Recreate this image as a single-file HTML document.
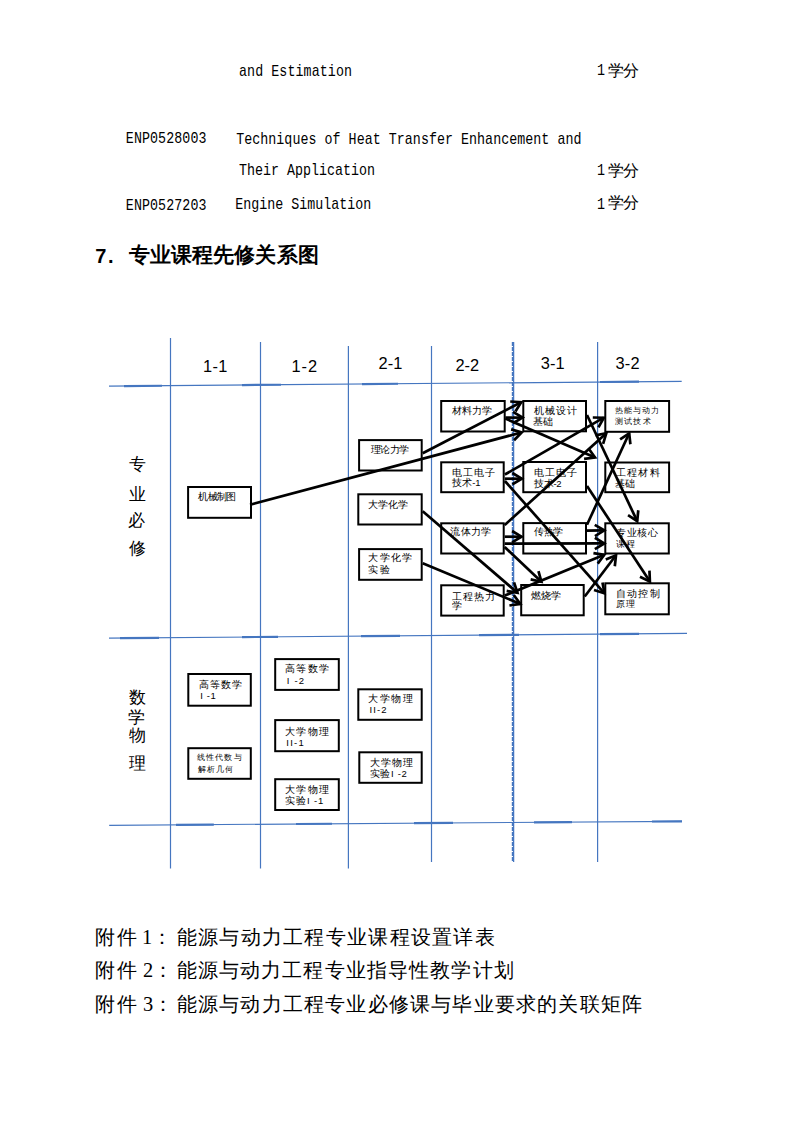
<!DOCTYPE html>
<html><head><meta charset="utf-8"><style>
html,body{margin:0;padding:0;background:#fff;}
body{width:794px;height:1123px;position:relative;overflow:hidden;}
.t{position:absolute;white-space:pre;line-height:1;color:#000;}
svg{position:absolute;left:0;top:0;}
</style></head><body>
<svg width="794" height="1123" viewBox="0 0 794 1123">
<line x1="109.00" y1="386.20" x2="681.70" y2="381.30" stroke="#4576c0" stroke-width="1.2" />
<line x1="124.00" y1="386.07" x2="162.00" y2="385.75" stroke="#4576c0" stroke-width="2.2" />
<line x1="242.00" y1="385.06" x2="281.00" y2="384.73" stroke="#4576c0" stroke-width="2.2" />
<line x1="362.00" y1="384.04" x2="398.00" y2="383.73" stroke="#4576c0" stroke-width="2.2" />
<line x1="600.00" y1="382.00" x2="639.00" y2="381.67" stroke="#4576c0" stroke-width="2.2" />
<line x1="109.00" y1="638.20" x2="687.00" y2="633.40" stroke="#4576c0" stroke-width="1.2" />
<line x1="120.00" y1="638.11" x2="159.00" y2="637.78" stroke="#4576c0" stroke-width="2.2" />
<line x1="242.00" y1="637.10" x2="278.00" y2="636.80" stroke="#4576c0" stroke-width="2.2" />
<line x1="361.00" y1="636.11" x2="400.00" y2="635.78" stroke="#4576c0" stroke-width="2.2" />
<line x1="479.00" y1="635.13" x2="519.00" y2="634.80" stroke="#4576c0" stroke-width="2.2" />
<line x1="600.00" y1="634.12" x2="639.00" y2="633.80" stroke="#4576c0" stroke-width="2.2" />
<line x1="109.20" y1="825.30" x2="682.00" y2="821.30" stroke="#4576c0" stroke-width="1.2" />
<line x1="176.00" y1="824.83" x2="213.80" y2="824.57" stroke="#4576c0" stroke-width="2.2" />
<line x1="296.00" y1="824.00" x2="332.00" y2="823.74" stroke="#4576c0" stroke-width="2.2" />
<line x1="414.00" y1="823.17" x2="453.00" y2="822.90" stroke="#4576c0" stroke-width="2.2" />
<line x1="534.00" y1="822.33" x2="572.00" y2="822.07" stroke="#4576c0" stroke-width="2.2" />
<line x1="652.00" y1="821.51" x2="682.00" y2="821.30" stroke="#4576c0" stroke-width="2.2" />
<line x1="170.50" y1="338.00" x2="170.50" y2="868.60" stroke="#4576c0" stroke-width="1.2" />
<line x1="260.50" y1="342.00" x2="260.50" y2="868.60" stroke="#4576c0" stroke-width="1.2" />
<line x1="348.40" y1="346.00" x2="348.40" y2="868.60" stroke="#4576c0" stroke-width="1.2" />
<line x1="431.50" y1="346.00" x2="431.50" y2="862.00" stroke="#4576c0" stroke-width="1.2" />
<line x1="597.60" y1="342.00" x2="597.60" y2="862.00" stroke="#4576c0" stroke-width="1.2" />
<line x1="513.60" y1="342.00" x2="513.60" y2="862.00" stroke="#4576c0" stroke-width="1.3" />
<line x1="512.40" y1="342.00" x2="512.40" y2="862.00" stroke="#4576c0" stroke-width="1.2" stroke-dasharray="4 1"/>
<rect x="188.10" y="487.00" width="62.90" height="30.80" fill="#fff" stroke="#000" stroke-width="2"/>
<rect x="359.10" y="440.10" width="62.60" height="30.40" fill="#fff" stroke="#000" stroke-width="2"/>
<rect x="358.30" y="494.30" width="63.40" height="30.20" fill="#fff" stroke="#000" stroke-width="2"/>
<rect x="359.10" y="549.10" width="62.60" height="30.70" fill="#fff" stroke="#000" stroke-width="2"/>
<rect x="441.20" y="401.00" width="63.50" height="30.50" fill="#fff" stroke="#000" stroke-width="2"/>
<rect x="441.20" y="462.30" width="62.50" height="29.90" fill="#fff" stroke="#000" stroke-width="2"/>
<rect x="441.20" y="523.30" width="62.50" height="30.20" fill="#fff" stroke="#000" stroke-width="2"/>
<rect x="441.20" y="585.30" width="62.50" height="30.30" fill="#fff" stroke="#000" stroke-width="2"/>
<rect x="523.30" y="401.00" width="62.70" height="30.30" fill="#fff" stroke="#000" stroke-width="2"/>
<rect x="523.30" y="462.00" width="62.70" height="30.20" fill="#fff" stroke="#000" stroke-width="2"/>
<rect x="523.30" y="523.10" width="62.70" height="30.40" fill="#fff" stroke="#000" stroke-width="2"/>
<rect x="521.20" y="585.00" width="62.50" height="30.30" fill="#fff" stroke="#000" stroke-width="2"/>
<rect x="605.30" y="401.00" width="63.80" height="30.80" fill="#fff" stroke="#000" stroke-width="2"/>
<rect x="605.30" y="462.50" width="63.80" height="29.70" fill="#fff" stroke="#000" stroke-width="2"/>
<rect x="605.30" y="523.30" width="63.50" height="30.20" fill="#fff" stroke="#000" stroke-width="2"/>
<rect x="605.30" y="583.30" width="63.50" height="31.00" fill="#fff" stroke="#000" stroke-width="2"/>
<rect x="188.30" y="674.00" width="62.50" height="31.70" fill="#fff" stroke="#000" stroke-width="2"/>
<rect x="188.30" y="748.20" width="62.50" height="30.60" fill="#fff" stroke="#000" stroke-width="2"/>
<rect x="275.20" y="659.10" width="63.60" height="30.80" fill="#fff" stroke="#000" stroke-width="2"/>
<rect x="275.20" y="720.10" width="63.60" height="31.10" fill="#fff" stroke="#000" stroke-width="2"/>
<rect x="275.20" y="779.20" width="63.60" height="30.80" fill="#fff" stroke="#000" stroke-width="2"/>
<rect x="358.30" y="689.30" width="63.40" height="30.50" fill="#fff" stroke="#000" stroke-width="2"/>
<rect x="359.30" y="752.30" width="62.40" height="30.50" fill="#fff" stroke="#000" stroke-width="2"/>
</svg>
<div class="t" style="left:239.00px;top:64.30px;font-family:'Liberation Mono',monospace;font-size:13.33px;letter-spacing:0.076px;font-weight:normal;transform:scaleY(1.2);transform-origin:0 0;">and Estimation</div>
<div class="t" style="left:125.80px;top:130.80px;font-family:'Liberation Mono',monospace;font-size:13.33px;letter-spacing:0.080px;font-weight:normal;transform:scaleY(1.2);transform-origin:0 0;">ENP0528003</div>
<div class="t" style="left:236.20px;top:131.55px;font-family:'Liberation Mono',monospace;font-size:13.33px;letter-spacing:0.032px;font-weight:normal;transform:scaleY(1.2);transform-origin:0 0;">Techniques of Heat Transfer Enhancement and</div>
<div class="t" style="left:239.00px;top:162.95px;font-family:'Liberation Mono',monospace;font-size:13.33px;letter-spacing:0.000px;font-weight:normal;transform:scaleY(1.2);transform-origin:0 0;">Their Application</div>
<div class="t" style="left:125.80px;top:197.60px;font-family:'Liberation Mono',monospace;font-size:13.33px;letter-spacing:0.080px;font-weight:normal;transform:scaleY(1.2);transform-origin:0 0;">ENP0527203</div>
<div class="t" style="left:235.20px;top:196.60px;font-family:'Liberation Mono',monospace;font-size:13.33px;letter-spacing:0.000px;font-weight:normal;transform:scaleY(1.2);transform-origin:0 0;">Engine Simulation</div>
<div class="t" style="left:597.00px;top:63.40px;font-family:'Liberation Mono',monospace;font-size:13.33px;letter-spacing:0.000px;font-weight:normal;transform:scaleY(1.2);transform-origin:0 0;">1</div>
<div class="t" style="left:608.10px;top:63.00px;font-family:'Liberation Serif',serif;font-size:16.00px;letter-spacing:-0.780px;font-weight:normal;">学分</div>
<div class="t" style="left:597.00px;top:163.35px;font-family:'Liberation Mono',monospace;font-size:13.33px;letter-spacing:0.000px;font-weight:normal;transform:scaleY(1.2);transform-origin:0 0;">1</div>
<div class="t" style="left:608.10px;top:162.70px;font-family:'Liberation Serif',serif;font-size:16.00px;letter-spacing:-0.780px;font-weight:normal;">学分</div>
<div class="t" style="left:597.00px;top:196.80px;font-family:'Liberation Mono',monospace;font-size:13.33px;letter-spacing:0.000px;font-weight:normal;transform:scaleY(1.2);transform-origin:0 0;">1</div>
<div class="t" style="left:608.10px;top:195.40px;font-family:'Liberation Serif',serif;font-size:16.00px;letter-spacing:-0.780px;font-weight:normal;">学分</div>
<div class="t" style="left:95.20px;top:246.40px;font-family:'Liberation Sans',sans-serif;font-size:20.00px;letter-spacing:1.640px;font-weight:bold;">7.</div>
<div class="t" style="left:128.50px;top:245.22px;font-family:'Liberation Sans',sans-serif;font-size:20.50px;letter-spacing:0.152px;font-weight:bold;">专业课程先修关系图</div>
<div class="t" style="left:94.90px;top:927.44px;font-family:'Liberation Serif',serif;font-size:20.40px;letter-spacing:1.700px;font-weight:normal;">附件</div>
<div class="t" style="left:142.00px;top:927.44px;font-family:'Liberation Serif',serif;font-size:20.40px;letter-spacing:0.000px;font-weight:normal;">1：</div>
<div class="t" style="left:176.70px;top:927.44px;font-family:'Liberation Serif',serif;font-size:20.40px;letter-spacing:1.287px;font-weight:normal;">能源与动力工程专业课程设置详表</div>
<div class="t" style="left:94.90px;top:960.14px;font-family:'Liberation Serif',serif;font-size:20.40px;letter-spacing:1.700px;font-weight:normal;">附件</div>
<div class="t" style="left:143.00px;top:960.14px;font-family:'Liberation Serif',serif;font-size:20.40px;letter-spacing:0.000px;font-weight:normal;">2：</div>
<div class="t" style="left:176.70px;top:960.14px;font-family:'Liberation Serif',serif;font-size:20.40px;letter-spacing:1.132px;font-weight:normal;">能源与动力工程专业指导性教学计划</div>
<div class="t" style="left:94.90px;top:994.14px;font-family:'Liberation Serif',serif;font-size:20.40px;letter-spacing:1.700px;font-weight:normal;">附件</div>
<div class="t" style="left:143.00px;top:994.14px;font-family:'Liberation Serif',serif;font-size:20.40px;letter-spacing:0.000px;font-weight:normal;">3：</div>
<div class="t" style="left:176.70px;top:994.14px;font-family:'Liberation Serif',serif;font-size:20.40px;letter-spacing:1.206px;font-weight:normal;">能源与动力工程专业必修课与毕业要求的关联矩阵</div>
<div class="t" style="left:129.30px;top:456.35px;font-family:'Liberation Sans',sans-serif;font-size:17.00px;letter-spacing:0.000px;font-weight:normal;">专</div>
<div class="t" style="left:129.30px;top:486.05px;font-family:'Liberation Sans',sans-serif;font-size:17.00px;letter-spacing:0.000px;font-weight:normal;">业</div>
<div class="t" style="left:128.30px;top:512.15px;font-family:'Liberation Sans',sans-serif;font-size:17.00px;letter-spacing:0.000px;font-weight:normal;">必</div>
<div class="t" style="left:129.30px;top:539.75px;font-family:'Liberation Sans',sans-serif;font-size:17.00px;letter-spacing:0.000px;font-weight:normal;">修</div>
<div class="t" style="left:129.30px;top:688.95px;font-family:'Liberation Sans',sans-serif;font-size:17.00px;letter-spacing:0.000px;font-weight:normal;">数</div>
<div class="t" style="left:128.30px;top:708.85px;font-family:'Liberation Sans',sans-serif;font-size:17.00px;letter-spacing:0.000px;font-weight:normal;">学</div>
<div class="t" style="left:129.30px;top:726.85px;font-family:'Liberation Sans',sans-serif;font-size:17.00px;letter-spacing:0.000px;font-weight:normal;">物</div>
<div class="t" style="left:129.30px;top:755.45px;font-family:'Liberation Sans',sans-serif;font-size:17.00px;letter-spacing:0.000px;font-weight:normal;">理</div>
<div class="t" style="left:198.30px;top:492.47px;font-family:'Liberation Sans',sans-serif;font-size:9.50px;letter-spacing:-0.620px;font-weight:normal;">机械制图</div>
<div class="t" style="left:370.60px;top:445.28px;font-family:'Liberation Sans',sans-serif;font-size:9.50px;letter-spacing:-0.500px;font-weight:normal;">理论力学</div>
<div class="t" style="left:368.30px;top:500.07px;font-family:'Liberation Sans',sans-serif;font-size:9.50px;letter-spacing:-0.020px;font-weight:normal;">大学化学</div>
<div class="t" style="left:368.30px;top:553.48px;font-family:'Liberation Sans',sans-serif;font-size:9.50px;letter-spacing:1.240px;font-weight:normal;">大学化学</div>
<div class="t" style="left:368.30px;top:564.78px;font-family:'Liberation Sans',sans-serif;font-size:9.50px;letter-spacing:1.360px;font-weight:normal;">实验</div>
<div class="t" style="left:451.80px;top:405.88px;font-family:'Liberation Sans',sans-serif;font-size:9.50px;letter-spacing:-0.020px;font-weight:normal;">材料力学</div>
<div class="t" style="left:451.80px;top:468.18px;font-family:'Liberation Sans',sans-serif;font-size:9.50px;letter-spacing:0.940px;font-weight:normal;">电工电子</div>
<div class="t" style="left:452.30px;top:478.47px;font-family:'Liberation Sans',sans-serif;font-size:9.50px;letter-spacing:-0.080px;font-weight:normal;">技术-1</div>
<div class="t" style="left:450.30px;top:527.48px;font-family:'Liberation Sans',sans-serif;font-size:9.50px;letter-spacing:0.280px;font-weight:normal;">流体力学</div>
<div class="t" style="left:451.80px;top:591.88px;font-family:'Liberation Sans',sans-serif;font-size:9.50px;letter-spacing:0.940px;font-weight:normal;">工程热力</div>
<div class="t" style="left:452.30px;top:600.98px;font-family:'Liberation Sans',sans-serif;font-size:9.50px;letter-spacing:1.000px;font-weight:normal;">学</div>
<div class="t" style="left:534.30px;top:406.38px;font-family:'Liberation Sans',sans-serif;font-size:9.50px;letter-spacing:0.940px;font-weight:normal;">机械设计</div>
<div class="t" style="left:532.80px;top:416.67px;font-family:'Liberation Sans',sans-serif;font-size:9.50px;letter-spacing:0.460px;font-weight:normal;">基础</div>
<div class="t" style="left:533.80px;top:468.18px;font-family:'Liberation Sans',sans-serif;font-size:9.50px;letter-spacing:0.940px;font-weight:normal;">电工电子</div>
<div class="t" style="left:534.30px;top:478.97px;font-family:'Liberation Sans',sans-serif;font-size:9.50px;letter-spacing:-0.380px;font-weight:normal;">技术-2</div>
<div class="t" style="left:534.30px;top:527.48px;font-family:'Liberation Sans',sans-serif;font-size:9.50px;letter-spacing:-0.530px;font-weight:normal;">传热学</div>
<div class="t" style="left:531.30px;top:591.38px;font-family:'Liberation Sans',sans-serif;font-size:9.50px;letter-spacing:-0.170px;font-weight:normal;">燃烧学</div>
<div class="t" style="left:615.10px;top:407.06px;font-family:'Liberation Sans',sans-serif;font-size:8.24px;letter-spacing:0.910px;font-weight:normal;">热能与动力</div>
<div class="t" style="left:614.60px;top:416.85px;font-family:'Liberation Sans',sans-serif;font-size:8.35px;letter-spacing:1.420px;font-weight:normal;">测试技术</div>
<div class="t" style="left:616.10px;top:468.38px;font-family:'Liberation Sans',sans-serif;font-size:9.50px;letter-spacing:1.180px;font-weight:normal;">工程材料</div>
<div class="t" style="left:614.60px;top:478.97px;font-family:'Liberation Sans',sans-serif;font-size:9.50px;letter-spacing:0.280px;font-weight:normal;">基础</div>
<div class="t" style="left:616.10px;top:528.48px;font-family:'Liberation Sans',sans-serif;font-size:9.50px;letter-spacing:0.580px;font-weight:normal;">专业核心</div>
<div class="t" style="left:616.10px;top:539.70px;font-family:'Liberation Sans',sans-serif;font-size:9.35px;letter-spacing:1.180px;font-weight:normal;">课程</div>
<div class="t" style="left:616.10px;top:589.38px;font-family:'Liberation Sans',sans-serif;font-size:9.50px;letter-spacing:1.180px;font-weight:normal;">自动控制</div>
<div class="t" style="left:615.60px;top:600.07px;font-family:'Liberation Sans',sans-serif;font-size:8.85px;letter-spacing:1.180px;font-weight:normal;">原理</div>
<div class="t" style="left:198.60px;top:679.58px;font-family:'Liberation Sans',sans-serif;font-size:9.50px;letter-spacing:1.060px;font-weight:normal;">高等数学</div>
<div class="t" style="left:200.20px;top:690.98px;font-family:'Liberation Sans',sans-serif;font-size:9.50px;letter-spacing:0.640px;font-weight:normal;">I -1</div>
<div class="t" style="left:197.00px;top:753.86px;font-family:'Liberation Sans',sans-serif;font-size:8.24px;letter-spacing:1.135px;font-weight:normal;">线性代数与</div>
<div class="t" style="left:198.00px;top:765.99px;font-family:'Liberation Sans',sans-serif;font-size:8.05px;letter-spacing:0.880px;font-weight:normal;">解析几何</div>
<div class="t" style="left:284.70px;top:664.28px;font-family:'Liberation Sans',sans-serif;font-size:9.50px;letter-spacing:1.540px;font-weight:normal;">高等数学</div>
<div class="t" style="left:286.70px;top:675.58px;font-family:'Liberation Sans',sans-serif;font-size:9.50px;letter-spacing:1.240px;font-weight:normal;">I -2</div>
<div class="t" style="left:284.70px;top:726.78px;font-family:'Liberation Sans',sans-serif;font-size:9.50px;letter-spacing:1.540px;font-weight:normal;">大学物理</div>
<div class="t" style="left:286.30px;top:738.08px;font-family:'Liberation Sans',sans-serif;font-size:9.50px;letter-spacing:1.240px;font-weight:normal;">II-1</div>
<div class="t" style="left:284.70px;top:785.07px;font-family:'Liberation Sans',sans-serif;font-size:9.50px;letter-spacing:1.540px;font-weight:normal;">大学物理</div>
<div class="t" style="left:285.20px;top:795.78px;font-family:'Liberation Sans',sans-serif;font-size:9.50px;letter-spacing:0.892px;font-weight:normal;">实验I -1</div>
<div class="t" style="left:368.30px;top:694.48px;font-family:'Liberation Sans',sans-serif;font-size:9.50px;letter-spacing:1.540px;font-weight:normal;">大学物理</div>
<div class="t" style="left:369.60px;top:704.68px;font-family:'Liberation Sans',sans-serif;font-size:9.50px;letter-spacing:1.060px;font-weight:normal;">II-2</div>
<div class="t" style="left:369.60px;top:757.98px;font-family:'Liberation Sans',sans-serif;font-size:9.50px;letter-spacing:1.180px;font-weight:normal;">大学物理</div>
<div class="t" style="left:369.60px;top:768.68px;font-family:'Liberation Sans',sans-serif;font-size:9.50px;letter-spacing:0.712px;font-weight:normal;">实验I -2</div>
<div class="t" style="left:203.00px;top:358.02px;font-family:'Liberation Sans',sans-serif;font-size:16.40px;letter-spacing:0.360px;font-weight:normal;">1-1</div>
<div class="t" style="left:291.60px;top:358.02px;font-family:'Liberation Sans',sans-serif;font-size:16.40px;letter-spacing:0.900px;font-weight:normal;">1-2</div>
<div class="t" style="left:378.40px;top:354.92px;font-family:'Liberation Sans',sans-serif;font-size:16.40px;letter-spacing:0.180px;font-weight:normal;">2-1</div>
<div class="t" style="left:455.40px;top:357.32px;font-family:'Liberation Sans',sans-serif;font-size:16.40px;letter-spacing:0.000px;font-weight:normal;">2-2</div>
<div class="t" style="left:540.70px;top:355.03px;font-family:'Liberation Sans',sans-serif;font-size:16.40px;letter-spacing:0.090px;font-weight:normal;">3-1</div>
<div class="t" style="left:615.40px;top:355.03px;font-family:'Liberation Sans',sans-serif;font-size:16.40px;letter-spacing:0.270px;font-weight:normal;">3-2</div>
<svg width="794" height="1123" viewBox="0 0 794 1123">
<line x1="250.00" y1="504.70" x2="521.70" y2="432.40" stroke="#000" stroke-width="2.7" />
<polyline points="514.05,440.30 521.70,432.40 511.13,429.35" fill="none" stroke="#000" stroke-width="2.7"/>
<line x1="422.70" y1="453.20" x2="521.20" y2="402.20" stroke="#000" stroke-width="2.7" />
<polyline points="515.43,411.57 521.20,402.20 510.22,401.50" fill="none" stroke="#000" stroke-width="2.7"/>
<line x1="505.40" y1="418.60" x2="595.00" y2="457.50" stroke="#000" stroke-width="2.7" />
<polyline points="584.09,458.94 595.00,457.50 588.61,448.55" fill="none" stroke="#000" stroke-width="2.7"/>
<line x1="505.40" y1="417.60" x2="522.50" y2="417.60" stroke="#000" stroke-width="2.7" />
<polyline points="513.07,423.27 522.50,417.60 513.07,411.93" fill="none" stroke="#000" stroke-width="2.7"/>
<line x1="504.90" y1="474.50" x2="603.80" y2="417.70" stroke="#000" stroke-width="2.7" />
<polyline points="598.45,427.31 603.80,417.70 592.80,417.48" fill="none" stroke="#000" stroke-width="2.7"/>
<line x1="504.90" y1="478.70" x2="521.80" y2="478.70" stroke="#000" stroke-width="2.7" />
<polyline points="512.37,484.37 521.80,478.70 512.37,473.03" fill="none" stroke="#000" stroke-width="2.7"/>
<line x1="504.90" y1="481.00" x2="604.50" y2="593.30" stroke="#000" stroke-width="2.7" />
<polyline points="594.01,590.01 604.50,593.30 602.48,582.49" fill="none" stroke="#000" stroke-width="2.7"/>
<line x1="504.70" y1="525.00" x2="606.30" y2="433.30" stroke="#000" stroke-width="2.7" />
<polyline points="603.10,443.82 606.30,433.30 595.50,435.41" fill="none" stroke="#000" stroke-width="2.7"/>
<line x1="504.70" y1="536.70" x2="521.50" y2="536.70" stroke="#000" stroke-width="2.7" />
<polyline points="512.07,542.37 521.50,536.70 512.07,531.03" fill="none" stroke="#000" stroke-width="2.7"/>
<line x1="504.70" y1="543.60" x2="604.30" y2="543.40" stroke="#000" stroke-width="2.7" />
<polyline points="594.88,549.08 604.30,543.40 594.86,537.75" fill="none" stroke="#000" stroke-width="2.7"/>
<line x1="504.70" y1="547.00" x2="541.40" y2="581.80" stroke="#000" stroke-width="2.7" />
<polyline points="530.66,579.42 541.40,581.80 538.46,571.20" fill="none" stroke="#000" stroke-width="2.7"/>
<line x1="422.70" y1="511.30" x2="517.50" y2="592.80" stroke="#000" stroke-width="2.7" />
<polyline points="506.66,590.95 517.50,592.80 514.04,582.36" fill="none" stroke="#000" stroke-width="2.7"/>
<line x1="422.70" y1="563.20" x2="520.30" y2="603.90" stroke="#000" stroke-width="2.7" />
<polyline points="509.42,605.50 520.30,603.90 513.78,595.04" fill="none" stroke="#000" stroke-width="2.7"/>
<line x1="504.70" y1="595.60" x2="604.30" y2="554.80" stroke="#000" stroke-width="2.7" />
<polyline points="597.72,563.62 604.30,554.80 593.43,553.13" fill="none" stroke="#000" stroke-width="2.7"/>
<line x1="587.00" y1="415.00" x2="637.20" y2="521.20" stroke="#000" stroke-width="2.7" />
<polyline points="628.05,515.10 637.20,521.20 638.29,510.25" fill="none" stroke="#000" stroke-width="2.7"/>
<line x1="587.00" y1="486.00" x2="649.90" y2="581.60" stroke="#000" stroke-width="2.7" />
<polyline points="639.98,576.84 649.90,581.60 649.45,570.61" fill="none" stroke="#000" stroke-width="2.7"/>
<line x1="587.00" y1="524.70" x2="629.20" y2="433.30" stroke="#000" stroke-width="2.7" />
<polyline points="630.39,444.24 629.20,433.30 620.10,439.49" fill="none" stroke="#000" stroke-width="2.7"/>
<line x1="587.00" y1="530.60" x2="604.30" y2="530.30" stroke="#000" stroke-width="2.7" />
<polyline points="594.97,536.13 604.30,530.30 594.77,524.80" fill="none" stroke="#000" stroke-width="2.7"/>
<line x1="584.70" y1="596.50" x2="616.00" y2="555.30" stroke="#000" stroke-width="2.7" />
<polyline points="614.81,566.24 616.00,555.30 605.78,559.38" fill="none" stroke="#000" stroke-width="2.7"/>
</svg>
</body></html>
